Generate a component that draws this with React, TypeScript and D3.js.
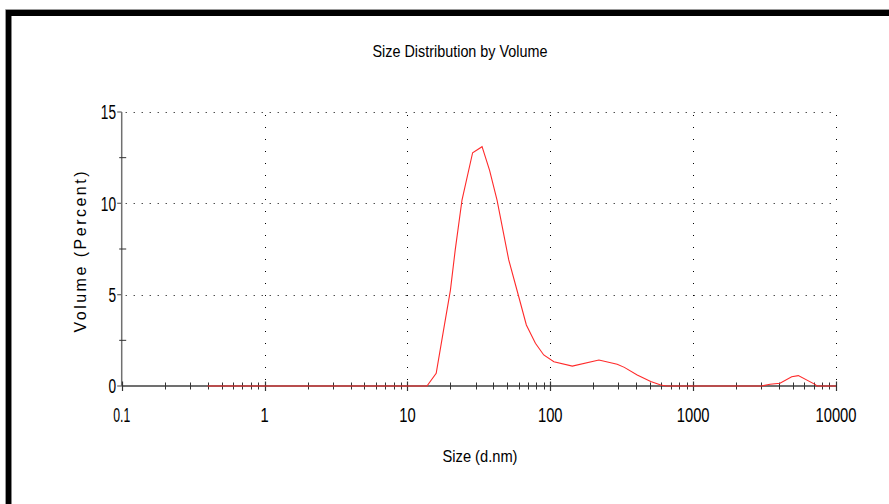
import React from "react";
import * as d3 from "d3";

const sizes = [0.4, 13.7, 15.9, 17.9, 20, 21.6, 24.1, 28.6, 33.3, 37.6, 42.4, 51.2, 60.1, 68, 78.7, 90, 106, 142.6, 219, 294, 330, 406, 505, 593, 650, 3020, 3453, 4056, 4896, 5448, 7127, 7360, 10000];
const volumes = [0, 0, 0.69, 3.06, 5.25, 7.44, 10.18, 12.77, 13.1, 11.8, 10.18, 6.9, 4.9, 3.34, 2.34, 1.7, 1.33, 1.09, 1.42, 1.19, 1.02, 0.6, 0.24, 0.05, 0, 0, 0.1, 0.15, 0.51, 0.57, 0.09, 0, 0];
const xTicks = [0.1, 1, 10, 100, 1000, 10000];
const xTickLabels = ["0.1", "1", "10", "100", "1000", "10000"];
const yTicks = [0, 5, 10, 15];
const yMinorTicks = [2.5, 7.5, 12.5];
const title = "Size Distribution by Volume";
const xTitle = "Size (d.nm)";
const yTitle = "Volume (Percent)";

export default function App() {
  const W = 889, H = 504;
  const x = d3.scaleLog().domain([0.1, 10000]).range([121.7, 836]);
  const y = d3.scaleLinear().domain([0, 15]).range([386, 112]);
  const line = d3.line<number>().x((d, i) => x(sizes[i])).y((d) => y(d));
  const axisColor = "#707070";
  const font = "'Liberation Sans', Arial, sans-serif";

  const minor: number[] = [];
  for (let i = 0; i < xTicks.length - 1; i++) {
    for (let k = 2; k <= 9; k++) minor.push(xTicks[i] * k);
  }
  const xLabelLen = (s: string) => (s.includes(".") ? 17 : s.length * 8.2);

  return (
    <svg width={W} height={H} style={{ position: "absolute", left: 0, top: 0, background: "#fff" }}>
      <rect x={0} y={0} width={W} height={H} fill="#fff" />
      {/* frame */}
      <line x1={5.5} y1={9.5} x2={W} y2={9.5} stroke="#999" strokeWidth={1} />
      <line x1={5.5} y1={9.5} x2={5.5} y2={H} stroke="#999" strokeWidth={1} />
      <rect x={6} y={10} width={W - 6} height={6} fill="#000" />
      <rect x={6} y={10} width={5} height={H - 10} fill="#000" />
      <line x1={11.5} y1={16} x2={11.5} y2={H} stroke="#888" strokeWidth={1} />

      {/* title */}
      <text x={460} y={57} textAnchor="middle" fontFamily={font} fontSize={16.5} textLength={175} lengthAdjust="spacingAndGlyphs" fill="#000">{title}</text>

      {/* grid */}
      {yTicks.filter((t) => t > 0).map((t) => (
        <line key={"gy" + t} x1={x(0.1) + 4} x2={x(10000)} y1={Math.round(y(t)) + 0.5} y2={Math.round(y(t)) + 0.5} stroke="#000" strokeWidth={1} strokeDasharray="1 7" />
      ))}
      {xTicks.filter((t) => t > 0.1).map((t) => (
        <line key={"gx" + t} x1={Math.round(x(t)) + 0.5} x2={Math.round(x(t)) + 0.5} y1={y(15) + 3} y2={y(0)} stroke="#000" strokeWidth={1} strokeDasharray="1 11" />
      ))}

      {/* axes */}
      <line x1={x(0.1)} x2={x(0.1)} y1={y(15)} y2={y(0)} stroke={axisColor} strokeWidth={1.5} />
      <line x1={x(0.1)} x2={x(10000)} y1={y(0)} y2={y(0)} stroke={axisColor} strokeWidth={2} />
      {yTicks.map((t) => (
        <line key={"yt" + t} x1={x(0.1) - 4.5} x2={x(0.1)} y1={y(t)} y2={y(t)} stroke={axisColor} strokeWidth={1.3} />
      ))}
      {yMinorTicks.map((t) => (
        <line key={"ym" + t} x1={x(0.1) - 2.5} x2={x(0.1) + 4.5} y1={y(t)} y2={y(t)} stroke="#333" strokeWidth={1} />
      ))}
      {minor.map((t) => (
        <line key={"xm" + t} x1={Math.round(x(t)) + 0.5} x2={Math.round(x(t)) + 0.5} y1={y(0) - 3.5} y2={y(0) + 3.5} stroke="#333" strokeWidth={1} />
      ))}
      {xTicks.map((t) => (
        <line key={"xt" + t} x1={Math.round(x(t)) + 0.5} x2={Math.round(x(t)) + 0.5} y1={y(0) - 4.5} y2={y(0) + 5} stroke="#333" strokeWidth={1.2} />
      ))}

      {/* data */}
      <path d={line(volumes) || ""} fill="none" stroke="#ff2a2a" strokeWidth={1.1} />

      {/* tick labels */}
      {xTicks.map((t, i) => (
        <text key={"xl" + t} x={x(t)} y={422} textAnchor="middle" fontFamily={font} fontSize={20} fill="#000" textLength={xLabelLen(xTickLabels[i])} lengthAdjust="spacingAndGlyphs">{xTickLabels[i]}</text>
      ))}
      {yTicks.map((t) => (
        <text key={"yl" + t} x={116} y={y(t) + 7.2} textAnchor="end" fontFamily={font} fontSize={20} fill="#000" textLength={String(t).length * 7.6} lengthAdjust="spacingAndGlyphs">{String(t)}</text>
      ))}

      {/* axis titles */}
      <text x={480} y={462} textAnchor="middle" fontFamily={font} fontSize={17} textLength={75} lengthAdjust="spacingAndGlyphs" fill="#000">{xTitle}</text>
      <text transform="translate(86,252) rotate(-90)" textAnchor="middle" fontFamily={font} fontSize={16} textLength={161} lengthAdjust="spacing" fill="#000">{yTitle}</text>
    </svg>
  );
}
